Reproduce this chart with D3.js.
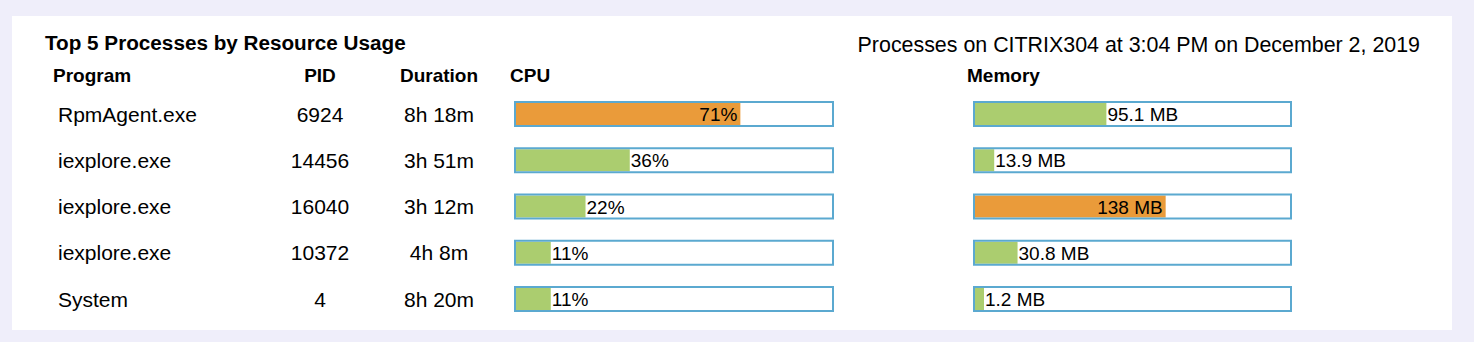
<!DOCTYPE html>
<html lang="en">
<head>
  <meta charset="UTF-8">
  <title>Top 5 Processes</title>
  <script src="https://d3js.org/d3.v7.min.js"></script>
  <style>
    body { margin: 0; background: #efeefa; font-family: "Liberation Sans", Arial, sans-serif; }
    .hdr { font-weight: bold; font-size: 19px; }
    .cell { font-size: 21px; }
    .lbl { font-size: 19px; }
  </style>
</head>
<body>
  <div id="chart"></div>
  <script>
    const programs = ["RpmAgent.exe", "iexplore.exe", "iexplore.exe", "iexplore.exe", "System"];
    const pids = ["6924", "14456", "16040", "10372", "4"];
    const durations = ["8h 18m", "3h 51m", "3h 12m", "4h 8m", "8h 20m"];
    const cpu = [71, 36, 22, 11, 11];
    const memory = [95.1, 13.9, 138, 30.8, 1.2];
    const memLabels = ["95.1 MB", "13.9 MB", "138 MB", "30.8 MB", "1.2 MB"];

    const W = 1474, H = 342;
    const svg = d3.select("#chart").append("svg")
      .attr("width", W).attr("height", H);

    // white panel
    svg.append("rect")
      .attr("x", 12).attr("y", 16)
      .attr("width", 1440).attr("height", 314)
      .attr("fill", "#fff");

    svg.append("text")
      .attr("x", 45).attr("y", 50)
      .style("font-weight", "bold").style("font-size", "20.7px")
      .text("Top 5 Processes by Resource Usage");

    svg.append("text")
      .attr("x", 1420).attr("y", 52)
      .attr("text-anchor", "end")
      .style("font-size", "21.4px")
      .text("Processes on CITRIX304 at 3:04 PM on December 2, 2019");

    const headers = [
      { t: "Program", x: 53, a: "start" },
      { t: "PID", x: 320, a: "middle" },
      { t: "Duration", x: 439, a: "middle" },
      { t: "CPU", x: 510, a: "start" },
      { t: "Memory", x: 967, a: "start" }
    ];
    svg.selectAll(".hdr").data(headers).enter().append("text")
      .attr("class", "hdr")
      .attr("x", d => d.x).attr("y", 82)
      .attr("text-anchor", d => d.a)
      .text(d => d.t);

    const y = d3.scalePoint()
      .domain(d3.range(programs.length))
      .range([114, 299]);

    const rows = svg.selectAll(".row")
      .data(programs.map((p, i) => ({ i, p })))
      .enter().append("g")
      .attr("class", "row")
      .attr("transform", d => `translate(0,${y(d.i)})`);

    rows.append("text").attr("class", "cell")
      .attr("x", 58).attr("dy", "0.36em")
      .text(d => d.p);
    rows.append("text").attr("class", "cell")
      .attr("x", 320).attr("dy", "0.36em").attr("text-anchor", "middle")
      .text(d => pids[d.i]);
    rows.append("text").attr("class", "cell")
      .attr("x", 439).attr("dy", "0.36em").attr("text-anchor", "middle")
      .text(d => durations[d.i]);

    const barH = 22;
    const cpuX = d3.scaleLinear().domain([0, 100]).range([516, 832]);
    const memX = d3.scaleLinear().domain([0, 228]).range([975, 1290]);

    function drawBars(values, labels, x, minW) {
      const maxV = d3.max(values);
      rows.each(function(d) {
        const g = d3.select(this);
        const v = values[d.i];
        const x0 = x.range()[0];
        const w = Math.max(minW, x(v) - x0);
        const isMax = v === maxV;
        g.append("rect")
          .attr("x", x0).attr("y", -barH / 2)
          .attr("width", w).attr("height", barH)
          .attr("fill", isMax ? "#ea9b3a" : "#abcd6f");
        g.append("rect")
          .attr("x", x0 - 1).attr("y", -barH / 2 - 1)
          .attr("width", x.range()[1] - x0 + 2).attr("height", barH + 2)
          .attr("fill", "none")
          .attr("stroke", "#5ba9d0").attr("stroke-width", 2);
        g.append("text").attr("class", "lbl")
          .attr("x", isMax ? x0 + w - 3 : x0 + w + 1)
          .attr("text-anchor", isMax ? "end" : "start")
          .attr("dy", "0.37em")
          .text(labels[d.i]);
      });
    }

    drawBars(cpu, cpu.map(v => v + "%"), cpuX, 0);
    drawBars(memory, memLabels, memX, 9);
  </script>
</body>
</html>
